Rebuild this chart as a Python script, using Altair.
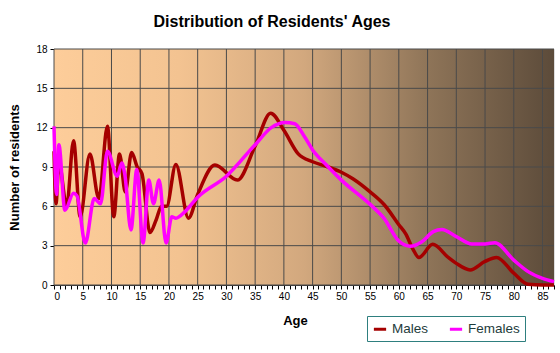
import altair as alt
import pandas as pd

# ---- data ----
male_age = [0, 0.35, 0.85, 2.2, 3.4, 4.55, 6.25, 7.8, 9.3, 10.4, 11.4, 12.4, 13.5, 14.5, 15.3,
            16.7, 17.8, 18.7, 19.6, 21.2, 23.4, 25, 28, 31.9, 35, 37.7, 40, 42.5, 45, 47.4,
            50, 52, 55, 57.5, 60, 61.2, 62.5, 63.5, 65.9, 68.6, 70, 72.4, 75, 77, 80,
            82.5, 85, 87]
male_val = [10.2, 6.2, 9.4, 6.0, 11.0, 5.2, 10.0, 6.6, 12.1, 5.2, 10.0, 7.1, 10.1, 9.0, 8.5,
            4.0, 5.0, 6.0, 6.0, 9.2, 5.1, 6.9, 9.15, 8.0, 10.6, 13.1, 11.8, 10.0, 9.4, 9.05,
            8.6, 8.1, 7.1, 6.1, 4.6, 3.9, 2.7, 2.1, 3.1, 2.1, 1.65, 1.15, 1.8, 2.1, 0.9,
            0.05, 0.0, 0.0]

female_age = [0, 0.45, 0.85, 1.9, 3.4, 4.0, 5.45, 7.0, 8.1, 9.3, 11.0, 11.8, 12.3, 13.4, 14.4,
              15.5, 16.5, 17.3, 18.3, 19.5, 20.5, 21.2, 22.8, 25, 30, 35, 37.8, 40.2, 41.9,
              43.6, 45, 47.4, 50, 55, 57.4, 60, 62, 64, 66, 67.5, 70, 72.7, 75, 76.7, 80, 82.5,
              85, 87]
female_val = [12.1, 6.9, 10.7, 5.7, 7.0, 6.8, 3.2, 6.6, 6.2, 10.2, 8.3, 9.3, 8.5, 4.2, 8.8,
              3.2, 8.0, 6.2, 8.0, 3.2, 5.2, 5.1, 5.6, 6.7, 8.3, 10.7, 12.0, 12.4, 12.3,
              11.3, 10.3, 9.15, 8.0, 6.15, 5.1, 3.35, 2.95, 3.3, 4.07, 4.24, 3.69, 3.13, 3.13, 3.23,
              1.9, 1.02, 0.51, 0.26]

series = ["Males", "Females"]
colors = ["#A50000", "#FF00FF"]
x_ticks = list(range(0, 88))
x_grid = list(range(0, 90, 5))
y_ticks = [0, 3, 6, 9, 12, 15, 18]

df = pd.concat([
    pd.DataFrame({"age": male_age, "n": male_val, "sex": "Males"}),
    pd.DataFrame({"age": female_age, "n": female_val, "sex": "Females"}),
])

FONT = "Liberation Sans"
W, H = 500, 236
GRID = "#4a4a4a"

xscale = alt.Scale(domain=[0, 87], nice=False, zero=True)
yscale = alt.Scale(domain=[0, 18], nice=False)

xaxis = alt.Axis(
    title="Age", values=x_ticks,
    labelExpr="datum.value % 5 === 0 ? datum.label : ''",
    grid=False,
    tickSize=4, tickColor="#000000",
    labelFontSize=10, labelFont=FONT, labelColor="#000000", labelPadding=2,
    titleFontSize=13, titleFont=FONT, titleFontWeight="bold", titlePadding=13,
    titleColor="#000000", titleX=241,
    domainColor="#333333",
)
yaxis = alt.Axis(
    title="Number of residents", values=y_ticks,
    grid=False,
    tickSize=4, tickColor="#000000",
    labelFontSize=10, labelFont=FONT, labelColor="#000000", labelPadding=3,
    titleFontSize=13, titleFont=FONT, titleFontWeight="bold", titlePadding=14,
    titleColor="#000000",
    domainColor="#333333",
)

bg = alt.Chart(pd.DataFrame({"k": [0]})).mark_rect(
    color=alt.Gradient(
        gradient="linear", x1=0, x2=1, y1=0, y2=0,
        stops=[
            alt.GradientStop(offset=0, color="#FDCD9A"),
            alt.GradientStop(offset=0.25, color="#F3C391"),
            alt.GradientStop(offset=0.5, color="#D2A87E"),
            alt.GradientStop(offset=0.75, color="#8E7458"),
            alt.GradientStop(offset=1, color="#5C4B3A"),
        ],
    )
).encode(x=alt.value(0), x2=alt.value(W), y=alt.value(0), y2=alt.value(H))

vgrid = alt.Chart(pd.DataFrame({"age": x_grid})).mark_rule(color=GRID, strokeWidth=1).encode(
    x=alt.X("age:Q", scale=xscale, axis=xaxis))
hgrid = alt.Chart(pd.DataFrame({"n": y_ticks})).mark_rule(color=GRID, strokeWidth=1).encode(
    y=alt.Y("n:Q", scale=yscale, axis=yaxis))

lines = alt.Chart(df).mark_line(interpolate="monotone", strokeWidth=3.5).encode(
    x=alt.X("age:Q", scale=xscale, axis=xaxis),
    y=alt.Y("n:Q", scale=yscale, axis=yaxis),
    color=alt.Color("sex:N",
                    scale=alt.Scale(domain=series, range=colors),
                    sort=series,
                    legend=alt.Legend(
                        title=None, orient="none", direction="horizontal",
                        legendX=313, legendY=267,
                        symbolType="stroke", symbolStrokeWidth=3, symbolSize=150,
                        labelFontSize=13.5, labelFont=FONT, labelColor="#1E3C3C",
                        columnPadding=14, padding=5, symbolOffset=0,
                        strokeColor="#2E7F7F", fillColor="#FFFFFF",
                    )),
    order=alt.Order("age:Q"),
)

chart = alt.layer(bg, vgrid, hgrid, lines).properties(
    width=W, height=H,
    autosize=alt.AutoSizeParams(type="none"),
    padding={"left": 54, "top": 49, "right": 6, "bottom": 68},
    title=alt.TitleParams("Distribution of Residents' Ages", fontSize=16, fontWeight="bold",
                          font=FONT, color="#000000", offset=14, dx=-32),
).configure_view(stroke="#333333", strokeWidth=1).configure(background="#FFFFFF")

chart.save("out.html", embed_options={"renderer": "svg", "actions": False})
